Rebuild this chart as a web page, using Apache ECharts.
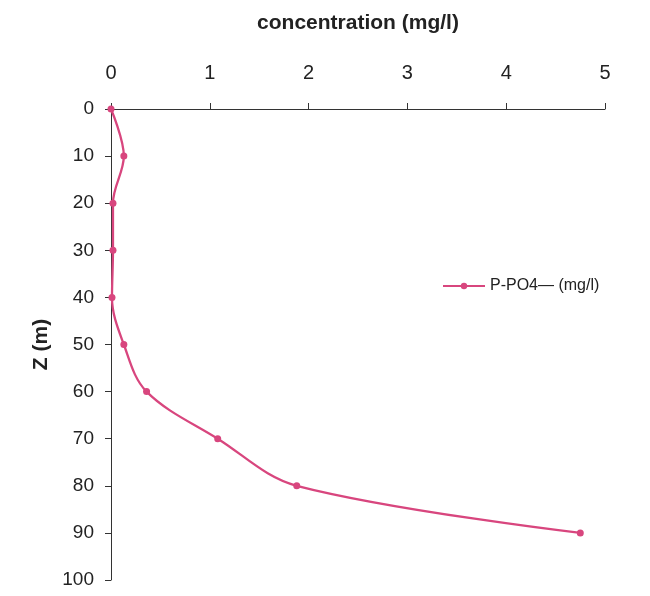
<!DOCTYPE html>
<html><head><meta charset="utf-8">
<script src="https://cdn.jsdelivr.net/npm/echarts@6/dist/echarts.min.js"></script>
<style>html,body{margin:0;padding:0;background:#fff}#c{width:650px;height:596px}</style>
</head><body><div id="c"></div>
<script>
const depths = [0, 10, 20, 30, 40, 50, 60, 70, 80, 90];
const concentration = [0, 0.13, 0.02, 0.02, 0.01, 0.13, 0.36, 1.08, 1.88, 4.75];
const seriesName = 'P-PO4— (mg/l)';
const xTitle = 'concentration (mg/l)';
const yTitle = 'Z (m)';

const font = '"Liberation Sans", Arial, sans-serif';
const chart = echarts.init(document.getElementById('c'));
chart.setOption({
  backgroundColor: '#fff',
  animation: false,
  grid: {left: 111, top: 109, right: 45, bottom: 16, containLabel: false},
  legend: {
    data: [seriesName], left: 437, top: 273, itemWidth: 42, itemHeight: 8, itemGap: 4,
    textStyle: {fontFamily: font, fontSize: 16, color: '#222'}
  },
  xAxis: {
    type: 'value', position: 'top', min: 0, max: 5, interval: 1,
    name: xTitle, nameLocation: 'middle', nameGap: 75,
    nameTextStyle: {fontFamily: font, fontSize: 21, fontWeight: 'bold', color: '#222'},
    axisLine: {show: true, lineStyle: {color: '#333', width: 1}},
    axisTick: {show: true, inside: false, length: 6, lineStyle: {color: '#333'}},
    axisLabel: {fontFamily: font, fontSize: 20, color: '#222', margin: 26},
    splitLine: {show: false}
  },
  yAxis: {
    type: 'value', inverse: true, min: 0, max: 100, interval: 10,
    name: yTitle, nameLocation: 'middle', nameGap: 58, nameRotate: 90,
    nameTextStyle: {fontFamily: font, fontSize: 21, fontWeight: 'bold', color: '#222'},
    axisLine: {show: true, lineStyle: {color: '#333', width: 1}},
    axisTick: {show: true, length: 6, lineStyle: {color: '#333'}},
    axisLabel: {fontFamily: font, fontSize: 19, color: '#222', margin: 17},
    splitLine: {show: false}
  },
  series: [{
    name: seriesName, type: 'line', smooth: 0.35,
    data: depths.map((d, i) => [concentration[i], d]),
    symbol: 'circle', symbolSize: 7,
    lineStyle: {color: '#d8467e', width: 2.3},
    itemStyle: {color: '#d8467e'}
  }]
});
</script></body></html>
